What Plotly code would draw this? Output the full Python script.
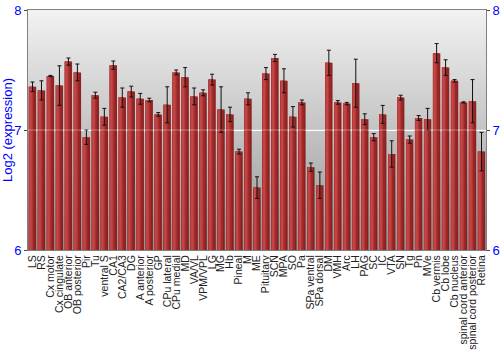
import plotly.graph_objects as go

regions = ["LS", "RS", "Cx motor", "Cx cingulate", "OB anterior", "OB posterior", "Pir", "Tu",
           "ventral S", "CA1", "CA2/CA3", "DG", "A anterior", "A posterior", "GP", "CPu lateral",
           "CPu medial", "MD", "VA/VL", "VPM/VPL", "LG", "MG", "Hb", "Pineal", "M", "ME",
           "Pituitary", "SCN", "MPA", "SO", "Pa", "SPa ventral", "SPa dorsal", "DM", "VMH", "Arc",
           "LH", "PAG", "SC", "IC", "VTA", "SN", "Tg", "Pn", "MVe", "Cb vermis", "Cb lobe",
           "Cb nucleus", "spinal cord anterior", "spinal cord posterior", "Retina"]

expression = [7.36, 7.33, 7.45, 7.37, 7.57, 7.48, 6.94, 7.29,
              7.11, 7.54, 7.27, 7.32, 7.26, 7.25, 7.13, 7.21,
              7.48, 7.44, 7.28, 7.31, 7.42, 7.17, 7.13, 6.82, 7.26, 6.52,
              7.47, 7.60, 7.41, 7.11, 7.23, 6.69, 6.54, 7.56, 7.23, 7.22,
              7.39, 7.09, 6.94, 7.13, 6.80, 7.27, 6.92, 7.10, 7.09, 7.64, 7.52,
              7.41, 7.23, 7.24, 6.82]

error = [0.04, 0.08, 0.005, 0.165, 0.03, 0.07, 0.06, 0.025,
         0.07, 0.035, 0.08, 0.045, 0.045, 0.015, 0.015, 0.15,
         0.02, 0.08, 0.07, 0.025, 0.045, 0.19, 0.06, 0.02, 0.05, 0.09,
         0.05, 0.03, 0.10, 0.085, 0.02, 0.035, 0.11, 0.105, 0.015, 0.01,
         0.20, 0.045, 0.03, 0.075, 0.11, 0.02, 0.03, 0.02, 0.09, 0.08, 0.065,
         0.01, 0.005, 0.18, 0.16]

y_ticks = [6, 7, 8]

FULL = 0.82
fig = go.Figure()

# background gradient bands (decoration)
n_bands = 60
for i in range(n_bands):
    t = i / (n_bands - 1)
    c = int(242 - t * (242 - 150))
    fig.add_shape(type="rect", xref="paper", yref="paper", x0=0, x1=1,
                  y0=1 - (i + 1) / n_bands, y1=1 - i / n_bands,
                  fillcolor=f"rgb({c},{c},{c})", line_width=0, layer="below")

# layered bars for cylinder shading
layers = [
    (-FULL / 2, FULL, "#861818"),
    (-FULL / 2, FULL * 0.78, "#9e2828"),
    (-FULL / 2, FULL * 0.55, "#b53838"),
    (-FULL / 2 + FULL * 0.08, FULL * 0.3, "#c54848"),
]
for off, w, col in layers:
    fig.add_trace(go.Bar(x=regions, y=expression, offset=off, width=w,
                         marker=dict(color=col, line_width=0), opacity=0.93,
                         hoverinfo="skip", showlegend=False))

fig.add_trace(go.Bar(x=regions, y=expression, offset=-FULL / 2, width=FULL,
                     marker=dict(color="rgba(0,0,0,0)", line_width=0),
                     error_y=dict(type="data", array=error, color="#111111",
                                  thickness=1, width=2),
                     showlegend=False))

# invisible trace for the right-hand axis
fig.add_trace(go.Scatter(x=[regions[0]], y=[7], yaxis="y2", mode="markers",
                         marker=dict(opacity=0), showlegend=False, hoverinfo="skip"))

fig.add_hline(y=7, line=dict(color="rgba(255,255,255,0.35)", width=1), layer="above")

fig.update_layout(
    width=500, height=350,
    margin=dict(l=28, r=14, t=10, b=100),
    paper_bgcolor="white", plot_bgcolor="rgba(0,0,0,0)",
    barmode="overlay", bargap=0.18,
    font=dict(family="Liberation Sans, Arial, sans-serif"),
    xaxis=dict(tickangle=-90, tickfont=dict(size=10.5, color="#222222"),
               tickmode="array", tickvals=regions, ticktext=regions,
               automargin=False,
               showline=True, mirror=True, linecolor="#808080", linewidth=1,
               ticks="", showgrid=False, range=[-0.5, len(regions) - 0.5]),
    yaxis=dict(range=[6, 8], tickvals=y_ticks, tickfont=dict(size=13, color="#0000ff"),
               title=dict(text="Log2 (expression)", font=dict(size=13, color="#0000ff"),
                          standoff=4),
               automargin=False,
               showline=True, linecolor="#808080", linewidth=1,
               ticks="outside", ticklen=3, tickcolor="#444444",
               gridcolor="white", gridwidth=1, zeroline=False),
    yaxis2=dict(range=[6, 8], tickvals=y_ticks, overlaying="y", side="right",
                tickfont=dict(size=13, color="#0000ff"), automargin=False,
                showline=True, linecolor="#808080", linewidth=1,
                ticks="outside", ticklen=3, tickcolor="#444444",
                showgrid=False, zeroline=False),
)

fig.write_html("out.html")
